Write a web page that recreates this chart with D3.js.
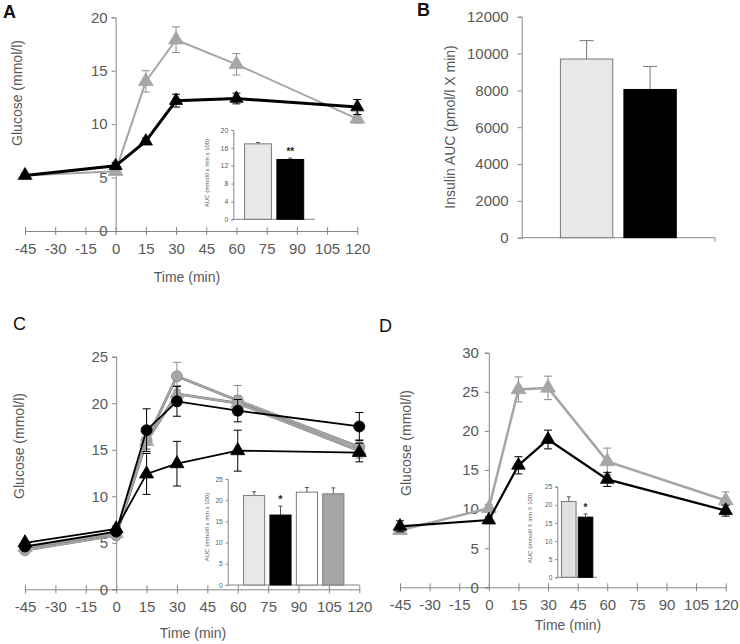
<!DOCTYPE html>
<html>
<head>
<meta charset="utf-8">
<script src="https://cdn.jsdelivr.net/npm/d3@7"></script>
<style>
  body { margin: 0; background: #fff; }
  svg { font-family: "Liberation Sans", Arial, sans-serif; }
</style>
</head>
<body>
<script>
// time points shared by all glucose curves
var timePoints = [-45, 0, 15, 30, 60, 120];
var timeTicks = [-45, -30, -15, 0, 15, 30, 45, 60, 75, 90, 105, 120];

// panel A - glucose curves
var aGray = [5.2, 5.6, 14.0, 17.9, 15.6, 10.5];
var aGrayErr = [0.2, 0.3, 1.0, 1.2, 1.0, 0.4];
var aBlack = [5.2, 6.1, 8.4, 12.2, 12.4, 11.6];
var aBlackErr = [0.2, 0.3, 0.3, 0.6, 0.5, 0.7];

// panel A inset - AUC
var aAucGroups = ['g1', 'g2'];
var aAuc = [16.9, 13.4];
var aAucErr = [0.3, 0.3];
var aAucTicks = [0, 4, 8, 12, 16, 20];

// panel B - insulin AUC
var bGroups = ['g1', 'g2'];
var bAuc = [9700, 8050];
var bAucErr = [1000, 1250];
var bTicks = [0, 2000, 4000, 6000, 8000, 10000, 12000];

// panel C - four glucose curves
var cGrayCircle = [4.2, 5.8, 16.0, 22.9, 20.3, 15.3];
var cGrayCircleErr = [0.2, 0.3, 1.0, 1.5, 1.6, 0.8];
var cGrayTri = [4.5, 6.0, 15.9, 21.0, 20.0, 14.9];
var cGrayTriErr = [0.2, 0.3, 0.8, 0.9, 0.8, 0.8];
var cBlackCircle = [4.6, 6.2, 17.1, 20.2, 19.2, 17.5];
var cBlackCircleErr = [0.2, 0.3, 2.3, 1.6, 1.2, 1.5];
var cBlackTri = [5.0, 6.5, 12.4, 13.5, 14.9, 14.7];
var cBlackTriErr = [0.2, 0.3, 2.2, 2.4, 2.2, 1.0];

// panel C inset - AUC
var cAucGroups = ['g1', 'g2', 'g3', 'g4'];
var cAuc = [21.1, 16.5, 21.9, 21.5];
var cAucErr = [0.9, 2.1, 1.1, 1.4];
var cAucTicks = [0, 5, 10, 15, 20, 25];

// panel D - glucose curves
var dGray = [7.3, 10.1, 25.3, 25.5, 16.1, 11.1];
var dGrayErr = [0.5, 0.5, 1.6, 1.5, 1.7, 1.1];
var dBlack = [7.8, 8.6, 15.6, 18.9, 13.8, 9.8];
var dBlackErr = [0.7, 0.4, 1.1, 1.2, 0.9, 0.7];

// panel D inset - AUC
var dAucGroups = ['g1', 'g2'];
var dAuc = [20.9, 16.6];
var dAucErr = [1.3, 0.9];
var dAucTicks = [0, 5, 10, 15, 20, 25];

var axisColor = '#868686';
var textColor = '#595959';
var grayLine = '#a6a6a6';

// plain numbers: hyphen minus, no thousands separator
var plain = function(d) { return String(d); };

var svg = d3.select('body').append('svg')
  .attr('width', 740)
  .attr('height', 644);

// style an axis group: gray lines and text
function styleAxis(g, fontSize) {
  g.select('.domain').attr('stroke', axisColor);
  g.selectAll('.tick line').attr('stroke', axisColor);
  g.selectAll('.tick text').attr('fill', textColor).style('font-size', fontSize + 'px');
}

// draw a glucose vs time panel
function linePanel(p) {
  var x = d3.scaleLinear().domain([-45, 120]).range(p.xRange);
  var y = d3.scaleLinear().domain(p.yDomain).range(p.yRange);
  var g = svg.append('g');

  var xAxis = g.append('g')
    .attr('transform', 'translate(0,' + p.yRange[0] + ')')
    .call(d3.axisBottom(x).tickValues(timeTicks).tickFormat(plain).tickSizeOuter(0).tickSizeInner(4).tickPadding(8));
  xAxis.selectAll('.tick line').attr('y1', -4);
  styleAxis(xAxis, 15);

  var yAxis = g.append('g')
    .attr('transform', 'translate(' + x(0) + ',0)')
    .call(d3.axisLeft(y).tickValues(p.yTicks).tickFormat(plain).tickSizeOuter(0).tickSize(4).tickPadding(p.yPad));
  styleAxis(yAxis, 15);

  g.append('text')
    .attr('transform', 'translate(' + p.yLabel[0] + ',' + p.yLabel[1] + ') rotate(-90)')
    .attr('text-anchor', 'middle')
    .attr('dy', '0.35em')
    .attr('fill', textColor)
    .style('font-size', '14px')
    .text('Glucose (mmol/l)');

  g.append('text')
    .attr('x', p.xLabel[0])
    .attr('y', p.xLabel[1])
    .attr('text-anchor', 'middle')
    .attr('dy', '0.35em')
    .attr('fill', textColor)
    .style('font-size', '14px')
    .text('Time (min)');

  var line = d3.line()
    .x(function(d) { return x(d.t); })
    .y(function(d) { return y(d.v); });

  p.series.forEach(function(s) {
    var pts = timePoints.map(function(t, i) { return {t: t, v: s.values[i], e: s.err[i]}; });

    // error bars
    var eb = g.append('g').attr('stroke', s.errColor).attr('stroke-width', 1);
    pts.forEach(function(d) {
      eb.append('line').attr('x1', x(d.t)).attr('x2', x(d.t)).attr('y1', y(d.v - d.e)).attr('y2', y(d.v + d.e));
      [d.v - d.e, d.v + d.e].forEach(function(v) {
        eb.append('line').attr('x1', x(d.t) - 4).attr('x2', x(d.t) + 4).attr('y1', y(v)).attr('y2', y(v));
      });
    });

    if (s.outline) {
      g.append('path').datum(pts)
        .attr('d', line).attr('fill', 'none')
        .attr('stroke', '#777').attr('stroke-width', s.width + 0.8);
    }
    g.append('path').datum(pts)
      .attr('d', line).attr('fill', 'none')
      .attr('stroke', s.color).attr('stroke-width', s.width);

    g.selectAll(null).data(pts).enter()
      .append('path')
      .attr('transform', function(d) { return 'translate(' + x(d.t) + ',' + y(d.v) + ')'; })
      .attr('d', d3.symbol().type(s.symbol).size(s.size))
      .attr('fill', s.color)
      .attr('stroke', s.stroke || s.color)
      .attr('stroke-width', 0.8);
  });
}

// draw an AUC bar chart (inset or full panel)
function barPanel(p) {
  var y = d3.scaleLinear().domain(p.yDomain).range(p.yRange);
  var x = d3.scaleBand().domain(p.groups).range(p.xRange).paddingInner(p.padIn).paddingOuter(p.padOut);
  var g = svg.append('g');

  var yAxis = g.append('g')
    .attr('transform', 'translate(' + p.xRange[0] + ',0)')
    .call(d3.axisLeft(y).tickValues(p.ticks).tickFormat(plain).tickSizeOuter(0).tickSize(p.tickLen).tickPadding(p.tickPad));
  styleAxis(yAxis, p.fontSize);

  g.append('line')
    .attr('x1', p.xRange[0]).attr('x2', p.xRange[1])
    .attr('y1', p.yRange[0]).attr('y2', p.yRange[0])
    .attr('stroke', axisColor);
  if (p.endTick) {
    g.append('line')
      .attr('x1', p.xRange[1]).attr('x2', p.xRange[1])
      .attr('y1', p.yRange[0]).attr('y2', p.yRange[0] + 4)
      .attr('stroke', axisColor);
  }

  g.selectAll(null).data(p.groups).enter()
    .append('line')
    .attr('x1', function(d) { return x(d) + x.bandwidth() / 2; })
    .attr('x2', function(d) { return x(d) + x.bandwidth() / 2; })
    .attr('y1', function(d, i) { return y(p.values[i]); })
    .attr('y2', function(d, i) { return y(p.values[i] + p.err[i]); })
    .attr('stroke', p.errColor);
  g.selectAll(null).data(p.groups).enter()
    .append('line')
    .attr('x1', function(d) { return x(d) + x.bandwidth() / 2 - p.cap; })
    .attr('x2', function(d) { return x(d) + x.bandwidth() / 2 + p.cap; })
    .attr('y1', function(d, i) { return y(p.values[i] + p.err[i]); })
    .attr('y2', function(d, i) { return y(p.values[i] + p.err[i]); })
    .attr('stroke', p.errColor);

  g.selectAll(null).data(p.groups).enter()
    .append('rect')
    .attr('x', function(d) { return x(d); })
    .attr('y', function(d, i) { return y(p.values[i]); })
    .attr('width', x.bandwidth())
    .attr('height', function(d, i) { return y(0) - y(p.values[i]); })
    .attr('fill', function(d, i) { return p.fills[i]; })
    .attr('stroke', function(d, i) { return p.fills[i] === '#000' ? '#000' : '#7a7a7a'; })
    .attr('stroke-width', 1);

  if (p.star) {
    var si = p.groups.indexOf(p.star.group);
    g.append('text')
      .attr('x', x(p.star.group) + x.bandwidth() / 2)
      .attr('y', y(p.values[si] + p.err[si]) - p.star.gap)
      .attr('text-anchor', 'middle')
      .attr('fill', '#222')
      .style('font-size', p.star.size + 'px')
      .style('font-weight', 'bold')
      .text(p.star.text);
  }

  g.append('text')
    .attr('transform', 'translate(' + p.label[0] + ',' + p.label[1] + ') rotate(-90)')
    .attr('text-anchor', 'middle')
    .attr('dy', '0.35em')
    .attr('fill', textColor)
    .style('font-size', p.labelSize + 'px')
    .text(p.labelText);
}

function panelLetter(t, x, y, weight) {
  svg.append('text')
    .attr('x', x).attr('y', y)
    .attr('fill', '#111')
    .style('font-size', '18px')
    .style('font-weight', weight)
    .text(t);
}

// ---------- A ----------
linePanel({
  xRange: [25, 357.3], yDomain: [0, 20], yRange: [231, 17.3], yTicks: [0, 5, 10, 15, 20], yPad: 4,
  yLabel: [17, 93], xLabel: [187, 277],
  series: [
    {values: aGray, err: aGrayErr, color: grayLine, errColor: '#8c8c8c', symbol: d3.symbolTriangle, size: 95, width: 2},
    {values: aBlack, err: aBlackErr, color: '#000', errColor: '#000', symbol: d3.symbolTriangle, size: 75, width: 3}
  ]
});
barPanel({
  groups: aAucGroups, values: aAuc, err: aAucErr, ticks: aAucTicks,
  yDomain: [0, 20], yRange: [219.3, 130], xRange: [233.3, 315], padIn: 0.17, padOut: 0.35,
  fills: ['#e8e8e8', '#000'], errColor: '#555', cap: 2,
  tickLen: 2, tickPad: 3, fontSize: 7,
  star: {group: 'g2', text: '**', gap: 3, size: 10},
  label: [207, 173], labelText: 'AUC (mmol/l x min x 100)', labelSize: 6
});
panelLetter('A', 3, 18, 'bold');

// ---------- B ----------
barPanel({
  groups: bGroups, values: bAuc, err: bAucErr, ticks: bTicks,
  yDomain: [0, 12000], yRange: [237.7, 16.7], xRange: [521.7, 715], padIn: 0.175, padOut: 0.61,
  fills: ['#e8e8e8', '#000'], errColor: '#777', cap: 7,
  tickLen: 4, tickPad: 9, fontSize: 15, endTick: true,
  label: [450, 127], labelText: 'Insulin AUC  (pmol/l X min)', labelSize: 14
});
panelLetter('B', 417, 16, 'bold');

// ---------- C ----------
linePanel({
  xRange: [25, 359.3], yDomain: [0, 25], yRange: [589.3, 356.7], yTicks: [0, 5, 10, 15, 20, 25], yPad: 4,
  yLabel: [19, 446], xLabel: [193, 633],
  series: [
    {values: cGrayCircle, err: cGrayCircleErr, color: grayLine, errColor: '#8c8c8c', symbol: d3.symbolCircle, size: 95, width: 2, outline: true, stroke: '#888'},
    {values: cGrayTri, err: cGrayTriErr, color: grayLine, errColor: '#8c8c8c', symbol: d3.symbolTriangle, size: 85, width: 2, outline: true},
    {values: cBlackCircle, err: cBlackCircleErr, color: '#000', errColor: '#000', symbol: d3.symbolCircle, size: 95, width: 1.8},
    {values: cBlackTri, err: cBlackTriErr, color: '#000', errColor: '#000', symbol: d3.symbolTriangle, size: 85, width: 1.8}
  ]
});
barPanel({
  groups: cAucGroups, values: cAuc, err: cAucErr, ticks: cAucTicks,
  yDomain: [0, 25], yRange: [585, 479], xRange: [227.7, 359.7], padIn: 0.2, padOut: 0.6,
  fills: ['#e8e8e8', '#000', '#fff', '#a6a6a6'], errColor: '#555', cap: 2,
  tickLen: 2, tickPad: 3, fontSize: 6.5,
  star: {group: 'g2', text: '*', gap: 3, size: 11},
  label: [207, 527], labelText: 'AUC (mmol/l x min x 100)', labelSize: 6
});
panelLetter('C', 13, 330, 'normal');

// ---------- D ----------
linePanel({
  xRange: [400, 725.7], yDomain: [0, 30], yRange: [587.3, 352.7], yTicks: [0, 5, 10, 15, 20, 25, 30], yPad: 6,
  yLabel: [406, 443], xLabel: [568, 625],
  series: [
    {values: dGray, err: dGrayErr, color: grayLine, errColor: '#8c8c8c', symbol: d3.symbolTriangle, size: 95, width: 2.5},
    {values: dBlack, err: dBlackErr, color: '#000', errColor: '#000', symbol: d3.symbolTriangle, size: 80, width: 2.2}
  ]
});
barPanel({
  groups: dAucGroups, values: dAuc, err: dAucErr, ticks: dAucTicks,
  yDomain: [0, 25], yRange: [577.3, 486.7], xRange: [557.3, 597], padIn: 0.13, padOut: 0.25,
  fills: ['#e0e0e0', '#000'], errColor: '#555', cap: 2,
  tickLen: 2, tickPad: 3, fontSize: 6.5,
  star: {group: 'g2', text: '*', gap: 3, size: 10},
  label: [530, 528], labelText: 'AUC (mmol/l X min X 100)', labelSize: 6
});
panelLetter('D', 379, 332, 'normal');
</script>
</body>
</html>
